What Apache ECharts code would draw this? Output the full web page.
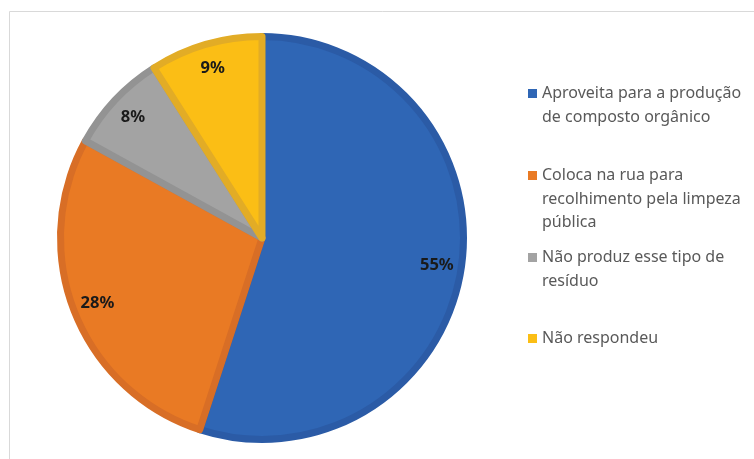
<!DOCTYPE html>
<html>
<head>
<meta charset="utf-8">
<script src="https://cdn.jsdelivr.net/npm/echarts@6/dist/echarts.min.js"></script>
<style>html,body{margin:0;padding:0;background:#fff;}#c{width:754px;height:459px;}</style>
</head>
<body>
<div id="c"></div>
<script>
const categories = [
  'Aproveita para a produção de composto orgânico',
  'Coloca na rua para recolhimento pela limpeza pública',
  'Não produz esse tipo de resíduo',
  'Não respondeu'
];
const legendLines = [
  ['Aproveita para a produção', 'de composto orgânico'],
  ['Coloca na rua para', 'recolhimento pela limpeza', 'pública'],
  ['Não produz esse tipo de', 'resíduo'],
  ['Não respondeu']
];
const values = [55, 28, 8, 9];
const fills = ['#2F66B5', '#E97A24', '#A3A3A3', '#FBBE15'];
const borders = ['#2B5BA6', '#D86E26', '#939393', '#E2AC26'];

const chart = echarts.init(document.getElementById('c'));
const LH = 23.5;
const legendIconTops = [89, 171, 253, 334];
const legends = categories.map((name, i) => {
  const n = legendLines[i].length;
  const boxTop = 4.5 - (2 * n - 1) * LH / 2;
  // prepend blank lines so the first text line sits level with the icon
  const text = new Array(n - 1).fill(' ').concat(legendLines[i]).join('\n');
  return {
    orient: 'vertical',
    left: 528,
    top: legendIconTops[i] + boxTop,
    padding: 0,
    itemWidth: 9,
    itemHeight: 9,
    itemGap: 0,
    icon: 'rect',
    selectedMode: false,
    data: [{ name: name, itemStyle: { color: fills[i], borderWidth: 0 } }],
    formatter: () => text,
    textStyle: {
      fontFamily: 'Noto Sans',
      fontSize: 16,
      color: '#595959',
      lineHeight: LH
    }
  };
});

chart.setOption({
  animation: false,
  legend: legends,
  graphic: [{
    type: 'rect',
    shape: { x: 9.5, y: 11.5, width: 900, height: 600 },
    style: { fill: 'none', stroke: '#D9D9D9', lineWidth: 1 },
    silent: true
  }],
  series: [
    {
      type: 'pie',
      center: [262, 238],
      radius: [0, 201.5],
      startAngle: 90,
      clockwise: true,
      label: { show: false },
      labelLine: { show: false },
      emphasis: { disabled: true },
      data: categories.map((name, i) => ({
        name: name,
        value: values[i],
        itemStyle: { color: fills[i], borderColor: borders[i], borderWidth: 7 }
      }))
    },
    {
      type: 'pie',
      center: [262, 238],
      radius: [143, 205],
      startAngle: 90,
      clockwise: true,
      silent: true,
      emphasis: { disabled: true },
      itemStyle: { color: 'rgba(0,0,0,0)', borderWidth: 0 },
      labelLine: { show: false },
      label: {
        show: true,
        position: 'inside',
        formatter: '{c}%',
        fontFamily: 'Noto Sans',
        fontWeight: 'bold',
        fontSize: 16.5,
        color: '#1A1A1A'
      },
      data: categories.map((name, i) => ({ name: name, value: values[i] }))
    }
  ]
});
</script>
</body>
</html>
